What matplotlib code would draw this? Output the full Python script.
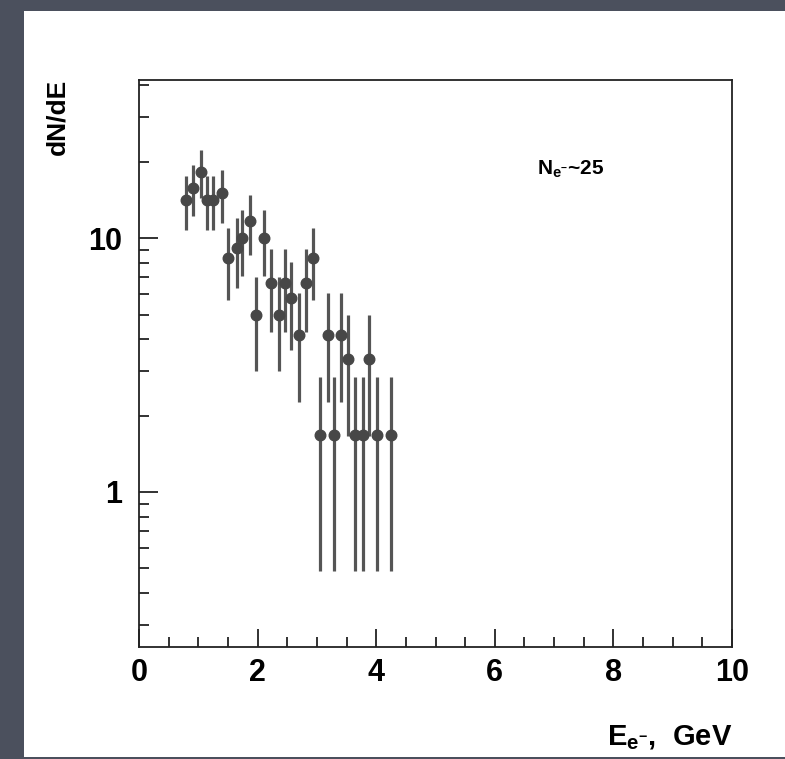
import numpy as np
import matplotlib
matplotlib.use("Agg")
import matplotlib.pyplot as plt
from matplotlib.ticker import FixedLocator, NullFormatter, FixedFormatter

plt.rcParams['font.family'] = ['Liberation Sans', 'DejaVu Sans']
plt.rcParams['font.weight'] = 'bold'
plt.rcParams['mathtext.fontset'] = 'custom'
plt.rcParams['mathtext.rm'] = 'Liberation Sans:bold'
plt.rcParams['mathtext.it'] = 'Liberation Sans:bold'
plt.rcParams['mathtext.bf'] = 'Liberation Sans:bold'

# electron energy spectrum, GeV
energy = [0.79, 0.91, 1.04, 1.15, 1.25, 1.40, 1.50, 1.65, 1.74, 1.87,
          1.98, 2.11, 2.22, 2.36, 2.46, 2.57, 2.70, 2.81, 2.94, 3.05,
          3.18, 3.29, 3.41, 3.53, 3.65, 3.77, 3.88, 4.01, 4.25]
dnde = [14.2, 15.8, 18.3, 14.2, 14.2, 15.0, 8.33, 9.17, 10.0, 11.7,
        5.0, 10.0, 6.67, 5.0, 6.67, 5.83, 4.17, 6.67, 8.33, 1.67,
        4.17, 1.67, 4.17, 3.33, 1.67, 1.67, 3.33, 1.67, 1.67]
dnde_err = [3.4, 3.6, 3.9, 3.4, 3.4, 3.5, 2.6, 2.8, 2.9, 3.1,
            2.0, 2.9, 2.4, 2.0, 2.4, 2.2, 1.9, 2.4, 2.6, 1.18,
            1.9, 1.18, 1.9, 1.67, 1.18, 1.18, 1.67, 1.18, 1.18]

x_major = [0, 2, 4, 6, 8, 10]
x_minor = [0.5, 1.0, 1.5, 2.5, 3.0, 3.5, 4.5, 5.0, 5.5, 6.5, 7.0, 7.5,
           8.5, 9.0, 9.5]
y_major = [1, 10]
y_major_labels = ['1', '10']
y_minor = [0.3, 0.4, 0.5, 0.6, 0.7, 0.8, 0.9,
           2, 3, 4, 5, 6, 7, 8, 9, 20, 30, 40]

W, H = 785, 759
fig = plt.figure(figsize=(W / 100, H / 100), dpi=100)
fig.patch.set_facecolor('#4b505d')

# white page behind the plot
page = fig.add_axes([24 / W, 2 / H, 1 - 24 / W, (757 - 11) / H], zorder=-5)
page.set_facecolor('white')
page.set_xticks([])
page.set_yticks([])
for sp in page.spines.values():
    sp.set_visible(False)

ax = fig.add_axes([139 / W, 1 - 647 / H, (732 - 139) / W, (647 - 80) / H],
                  zorder=1)
ax.set_facecolor('white')
ax.set_yscale('log')
ax.set_xlim(0, 10)
ax.set_ylim(0.245, 42)

ax.errorbar(energy, dnde, yerr=dnde_err, fmt='o', color='#474747',
            ecolor='#555555', elinewidth=2.3, markersize=7.6, capsize=0,
            zorder=3)

for sp in ax.spines.values():
    sp.set_linewidth(1.3)
    sp.set_color('#222222')

ax.xaxis.set_major_locator(FixedLocator(x_major))
ax.xaxis.set_minor_locator(FixedLocator(x_minor))
ax.yaxis.set_major_locator(FixedLocator(y_major))
ax.yaxis.set_major_formatter(FixedFormatter(y_major_labels))
ax.yaxis.set_minor_locator(FixedLocator(y_minor))
ax.yaxis.set_minor_formatter(NullFormatter())

ax.tick_params(axis='both', which='both', direction='in', color='#222222',
               top=False, right=False)
ax.tick_params(axis='x', which='major', length=13, width=1.3, pad=8,
               labelsize=22)
ax.tick_params(axis='x', which='minor', length=7, width=1.3)
ax.tick_params(axis='y', which='major', length=14, width=1.3, pad=12,
               labelsize=22)
ax.tick_params(axis='y', which='minor', length=7.5, width=1.3)
for lab in ax.get_xticklabels() + ax.get_yticklabels():
    lab.set_fontweight('bold')

fig.text(57 / W, 1 - 79 / H, 'dN/dE', rotation=90, ha='center', va='top',
         fontsize=19, fontweight='bold')
fig.text(732 / W, 1 - 745 / H, r'E$_{\mathrm{e}^{-}}$,  GeV', ha='right',
         va='baseline', fontsize=21, fontweight='bold')
fig.text(537 / W, 1 - 175 / H, r'N$_{\mathrm{e}^{-}}$~25', ha='left',
         va='baseline', fontsize=15, fontweight='bold')

fig.savefig('out.png', dpi=100, facecolor=fig.get_facecolor())
